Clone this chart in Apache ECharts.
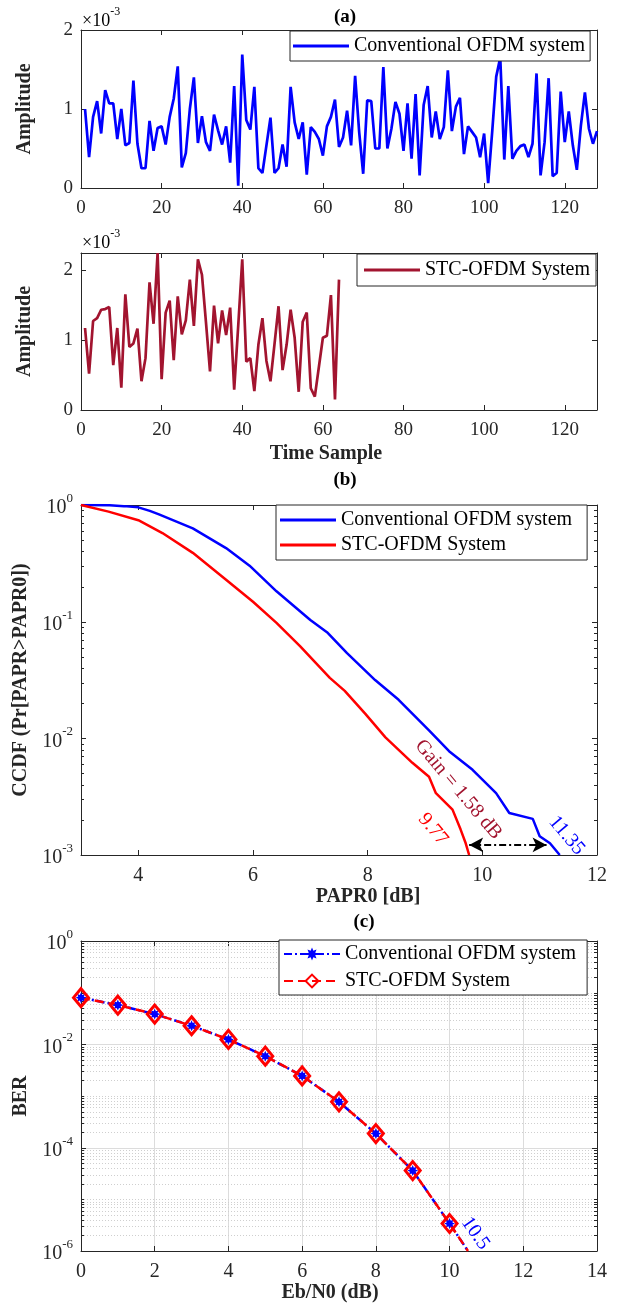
<!DOCTYPE html>
<html><head><meta charset="utf-8">
<script src="https://cdn.jsdelivr.net/npm/echarts@6/dist/echarts.min.js"></script>
<style>html,body{margin:0;padding:0;background:#fff}#c{width:618px;height:1307px}</style>
</head><body><div id="c"></div>
<script>
// ---------------- DATA ----------------
const tSamples = Array.from({length: 128}, (_, i) => i + 1);
// amplitude in units of 1e-3
const convAmp = [
 1.00,0.39,0.90,1.10,0.69,1.24,1.07,1.07,0.62,1.00,
 0.54,0.57,1.36,0.56,0.25,0.25,0.85,0.47,0.76,0.78,
 0.55,0.90,1.13,1.54,0.26,0.44,1.00,1.40,0.57,0.91,
 0.58,0.47,0.93,0.73,0.55,0.78,0.32,1.29,0.03,1.69,
 0.86,0.74,1.28,0.25,0.19,0.54,0.89,0.19,0.25,0.55,
 0.27,1.28,0.83,0.62,0.83,0.17,0.77,0.71,0.62,0.41,
 0.78,0.90,1.12,0.52,0.64,0.98,0.54,1.42,0.71,0.18,
 1.11,1.10,0.50,0.50,1.53,0.50,0.75,1.09,0.94,0.47,
 1.07,0.37,1.19,0.16,1.05,1.29,0.64,0.97,0.62,0.77,
 1.49,0.72,1.03,1.14,0.43,0.78,0.71,0.64,0.39,0.69,
 0.06,0.71,1.41,1.65,0.36,1.29,0.37,0.47,0.53,0.55,
 0.39,0.56,1.45,0.16,0.58,1.39,0.15,0.19,1.22,0.58,
 0.97,0.54,0.23,0.79,1.21,0.75,0.56,0.72];
const stcAmp = [
 1.17,0.52,1.27,1.31,1.43,1.44,1.47,0.64,1.17,0.32,
 1.65,0.90,0.95,1.16,0.41,0.74,1.82,1.23,2.24,0.44,
 1.39,1.56,0.71,1.62,1.08,1.28,1.86,1.20,2.15,1.93,
 1.25,0.55,1.49,0.95,1.42,1.07,1.46,0.29,1.20,2.15,
 0.69,0.74,0.27,0.93,1.31,0.70,0.41,0.94,1.48,0.57,
 0.93,1.43,1.03,0.26,1.26,1.39,0.31,0.19,0.61,1.03,
 1.06,1.64,0.15,1.86];

const ccdfConvX = [3,3.5,3.75,4,4.2,4.36,4.95,5.53,5.94,6.41,7.0,7.29,7.64,8.13,8.54,9.07,9.42,9.83,10.24,10.47,10.88,11.0,11.18,11.35];
const ccdfConvY = [1.0,0.993,0.978,0.955,0.89,0.83,0.631,0.427,0.302,0.182,0.1035,0.0813,0.0537,0.0316,0.0214,0.0117,0.00776,0.00537,0.00339,0.00229,0.00204,0.00145,0.00126,0.001];
const ccdfStcX = [3,3.48,4.0,4.42,4.95,5.53,6.0,6.41,6.82,7.34,7.6,7.96,8.31,8.78,9.07,9.19,9.48,9.62,9.71,9.77];
const ccdfStcY = [1.0,0.877,0.741,0.575,0.389,0.229,0.148,0.0977,0.0617,0.033,0.0255,0.0162,0.0102,0.00617,0.00468,0.00339,0.00245,0.00166,0.00126,0.001];

const ebn0 = [0,1,2,3,4,5,6,7,8,9,10];
const berConv = [0.080,0.0575,0.0385,0.0229,0.01245,0.0059,0.00245,0.00077,0.000187,0.000036,0.0000034];
const berStc  = [0.080,0.0575,0.0385,0.0229,0.01245,0.0059,0.00245,0.00077,0.000187,0.000036,0.0000034];
const berTail = [10.5, 0.000001];

const gainArrow = [[9.77, 0.00122], [11.12, 0.00122]];
const annB = [
  {text: 'Gain = 1.58 dB', x: 9.58, y: 0.00363, color: '#A2142F'},
  {text: '9.77', x: 9.14, y: 0.00166, color: '#FF0000'},
  {text: '11.35', x: 11.47, y: 0.00147, color: '#0000FF'}
];
const annC = [{text: '10.5', x: 10.7, y: 0.0000022, color: '#0000FF'}];

const xTicksB = [4,6,8,10,12];

// ---------------- STYLE ----------------
const FONT = "'Liberation Serif', 'Times New Roman', serif";
const AX = '#262626';
const BLUE = '#0000FF', DRED = '#A2142F', RED = '#FF0000';
const LINE_ICON = 'path://M0,0 H56 V3 H0 Z';

function starPath(n, rIn) {
  let d = '';
  for (let i = 0; i < 2 * n; i++) {
    const r = i % 2 === 0 ? 1 : rIn;
    const a = Math.PI * i / n - Math.PI / 2;
    d += (i === 0 ? 'M' : 'L') + (50 + 50 * r * Math.cos(a)).toFixed(2) + ',' + (50 + 50 * r * Math.sin(a)).toFixed(2) + ' ';
  }
  return 'path://' + d + 'Z';
}
function logTickValues(minExp, maxExp) {
  const out = [];
  for (let e = minExp; e < maxExp; e++) for (let m = 1; m < 10; m++) out.push(m * Math.pow(10, e));
  out.push(Math.pow(10, maxExp));
  return out;
}
const supRich = {
  b: {fontSize: 20, fontFamily: FONT, color: AX, lineHeight: 26, verticalAlign: 'bottom'},
  s: {fontSize: 13, fontFamily: FONT, color: AX, lineHeight: 26, verticalAlign: 'top'}
};
function expOf(v) { return Math.round(Math.log10(v)); }

function axisLineStyle() { return {show: true, onZero: false, lineStyle: {color: AX, width: 1}}; }
function tickStyle(show) { return {show: show, inside: true, length: 5, lineStyle: {color: AX, width: 1}}; }

const xAxes = [
  {type:'value', gridIndex:0, position:'bottom', min:0, max:128, interval:20, axisLine:axisLineStyle(), axisTick:tickStyle(true), splitLine:{show:false},
   axisLabel:{margin:11, fontSize:19, fontFamily:FONT, color:AX, formatter: v => (v % 20 === 0 ? String(v) : '')}},
  {type:'value', gridIndex:0, position:'top', min:0, max:128, interval:20, axisLine:axisLineStyle(), axisTick:tickStyle(true), splitLine:{show:false}, axisLabel:{show:false}},
  {type:'value', gridIndex:1, position:'bottom', min:0, max:128, interval:20, axisLine:axisLineStyle(), axisTick:tickStyle(true), splitLine:{show:false},
   axisLabel:{margin:11, fontSize:19, fontFamily:FONT, color:AX, formatter: v => (v % 20 === 0 ? String(v) : '')}},
  {type:'value', gridIndex:1, position:'top', min:0, max:128, interval:20, axisLine:axisLineStyle(), axisTick:tickStyle(true), splitLine:{show:false}, axisLabel:{show:false}},
  {type:'value', gridIndex:2, position:'bottom', min:3, max:12, axisLine:axisLineStyle(),
   axisTick:Object.assign(tickStyle(true), {customValues: xTicksB}), splitLine:{show:false},
   axisLabel:{margin:11, fontSize:20, fontFamily:FONT, color:AX, customValues: xTicksB, formatter: v => (v % 2 === 0 ? String(v) : '')}},
  {type:'value', gridIndex:2, position:'top', min:3, max:12, axisLine:axisLineStyle(),
   axisTick:Object.assign(tickStyle(true), {customValues: xTicksB}), splitLine:{show:false}, axisLabel:{show:false, customValues: xTicksB}},
  {type:'value', gridIndex:3, position:'bottom', min:0, max:14, interval:2, axisLine:axisLineStyle(), axisTick:tickStyle(true),
   splitLine:{show:true, lineStyle:{color:'#dcdcdc', width:1}},
   axisLabel:{margin:11, fontSize:20, fontFamily:FONT, color:AX}},
  {type:'value', gridIndex:3, position:'top', min:0, max:14, interval:2, axisLine:axisLineStyle(), axisTick:tickStyle(true), splitLine:{show:false}, axisLabel:{show:false}}
];

const nameStyle = {fontSize: 20, fontWeight: 'bold', fontFamily: FONT, color: AX};
const yAxes = [
  {type:'value', gridIndex:0, position:'left', min:0, max:2, interval:1, axisLine:axisLineStyle(), axisTick:tickStyle(true), splitLine:{show:false},
   axisLabel:{margin:8, fontSize:19, fontFamily:FONT, color:AX, formatter: v => (Number.isInteger(v) ? String(v) : '')},
   name:'Amplitude', nameLocation:'middle', nameGap:46, nameTextStyle:nameStyle},
  {type:'value', gridIndex:0, position:'right', min:0, max:2, interval:1, axisLine:axisLineStyle(), axisTick:tickStyle(true), splitLine:{show:false}, axisLabel:{show:false}},
  {type:'value', gridIndex:1, position:'left', min:0, max:2.24, interval:1, axisLine:axisLineStyle(), axisTick:tickStyle(true), splitLine:{show:false},
   axisLabel:{margin:8, fontSize:19, fontFamily:FONT, color:AX, formatter: v => (Number.isInteger(v) ? String(v) : '')},
   name:'Amplitude', nameLocation:'middle', nameGap:46, nameTextStyle:nameStyle},
  {type:'value', gridIndex:1, position:'right', min:0, max:2.24, interval:1, axisLine:axisLineStyle(), axisTick:tickStyle(true), splitLine:{show:false}, axisLabel:{show:false}},
  {type:'log', logBase:10, gridIndex:2, position:'left', min:0.001, max:1, axisLine:axisLineStyle(), axisTick:{show:false}, splitLine:{show:false},
   axisLabel:{margin:8, formatter: v => '{b|10}{s|' + expOf(v) + '}', rich: supRich},
   name:'CCDF (Pr[PAPR>PAPR0])', nameLocation:'middle', nameGap:46, nameTextStyle:nameStyle},
  {type:'log', logBase:10, gridIndex:2, position:'right', min:0.001, max:1, axisLine:axisLineStyle(), axisTick:{show:false}, splitLine:{show:false}, axisLabel:{show:false}},
  {type:'log', logBase:10, gridIndex:3, position:'left', min:0.000001, max:1, axisLine:axisLineStyle(), axisTick:{show:false}, splitLine:{show:false},
   axisLabel:{margin:8, formatter: v => (expOf(v) % 2 === 0 ? '{b|10}{s|' + expOf(v) + '}' : ''), rich: supRich},
   name:'BER', nameLocation:'middle', nameGap:46, nameTextStyle:nameStyle},
  {type:'log', logBase:10, gridIndex:3, position:'right', min:0.000001, max:1, axisLine:axisLineStyle(), axisTick:{show:false}, splitLine:{show:false}, axisLabel:{show:false}}
];

function decorSeries(xIdx, yIdx, x0, values, withGrid, majorStep) {
  return {
    type: 'custom', xAxisIndex: xIdx, yAxisIndex: yIdx, silent: true, z: 1, clip: false,
    data: values.map(v => [x0, v]),
    renderItem: function (params, api) {
      const cs = params.coordSys;
      const v = api.value(1);
      const y = Math.round(api.coord([api.value(0), v])[1]) + 0.5;
      const e = Math.log10(v);
      const isDecade = Math.abs(e - Math.round(e)) < 1e-6;
      const isMajor = isDecade && (Math.round(e) % majorStep === 0);
      const len = isMajor ? 5 : 3;
      const ch = [];
      if (withGrid && y > cs.y + 1 && y < cs.y + cs.height - 1) {
        ch.push({type: 'line', shape: {x1: cs.x, y1: y, x2: cs.x + cs.width, y2: y},
          style: isMajor ? {stroke: '#dcdcdc', lineWidth: 1} : {stroke: '#cfcfcf', lineWidth: 1, lineDash: [1, 2]}});
      }
      ch.push({type: 'line', shape: {x1: cs.x, y1: y, x2: cs.x + len, y2: y}, style: {stroke: AX, lineWidth: 1}});
      ch.push({type: 'line', shape: {x1: cs.x + cs.width - len, y1: y, x2: cs.x + cs.width, y2: y}, style: {stroke: AX, lineWidth: 1}});
      return {type: 'group', children: ch};
    }
  };
}

const pair = (xs, ys) => xs.map((x, i) => [x, ys[i]]);

const series = [
  {name:'Conventional OFDM system#a', type:'line', xAxisIndex:0, yAxisIndex:0, data: pair(tSamples, convAmp), symbol:'none',
   lineStyle:{color:BLUE, width:2.7}, itemStyle:{color:BLUE}},
  {name:'STC-OFDM System#a', type:'line', xAxisIndex:2, yAxisIndex:2, data: pair(tSamples.slice(0, stcAmp.length), stcAmp), symbol:'none',
   lineStyle:{color:DRED, width:2.7}, itemStyle:{color:DRED}},
  {name:'Conventional OFDM system#b', type:'line', xAxisIndex:4, yAxisIndex:4, data: pair(ccdfConvX, ccdfConvY), symbol:'none',
   lineStyle:{color:BLUE, width:2.5}, itemStyle:{color:BLUE}},
  {name:'STC-OFDM System#b', type:'line', xAxisIndex:4, yAxisIndex:4, data: pair(ccdfStcX, ccdfStcY), symbol:'none',
   lineStyle:{color:RED, width:2.5}, itemStyle:{color:RED},
   markLine:{silent:true, symbol:['arrow','arrow'], symbolSize:[11,14], label:{show:false},
     lineStyle:{color:'#000', width:2, type:[7,3,2,3]},
     data:[[{coord: gainArrow[0]}, {coord: gainArrow[1]}]]}},
  {name:'Conventional OFDM system#c', type:'line', xAxisIndex:6, yAxisIndex:6,
   data: pair(ebn0, berConv).concat([{value: berTail, symbol: 'none'}]),
   symbol: starPath(8, 0.55), symbolSize: 11, showAllSymbol: true,
   lineStyle:{color:BLUE, width:2.5, type:[8,3,2,3]}, itemStyle:{color:BLUE}},
  {name:'STC-OFDM System#c', type:'line', xAxisIndex:6, yAxisIndex:6,
   data: pair(ebn0, berStc).concat([{value: berTail, symbol: 'none'}]),
   symbol: 'diamond', symbolSize: [15, 18], showAllSymbol: true,
   lineStyle:{color:RED, width:2.5, type:[9,5]}, itemStyle:{color:'rgba(255,255,255,0)', borderColor:RED, borderWidth:3}},
  decorSeries(4, 4, 3, logTickValues(-3, 0), false, 1),
  decorSeries(6, 6, 0, logTickValues(-6, 0), true, 2)
];

function legendBase(extra) {
  return Object.assign({
    selectedMode: false, orient: 'vertical', itemWidth: 56, itemHeight: 14, symbolKeepAspect: false,
    backgroundColor: '#fff', borderColor: AX, borderWidth: 1, borderRadius: 0,
    textStyle: {fontSize: 20, fontFamily: FONT, color: '#000', lineHeight: 22},
    formatter: n => n.split('#')[0]
  }, extra);
}

const option = {
  animation: false,
  textStyle: {fontFamily: FONT},
  grid: [
    {left: 81, top: 30, width: 516, height: 158},
    {left: 81, top: 253, width: 516, height: 157},
    {left: 81, top: 505, width: 516, height: 350},
    {left: 81, top: 941, width: 516, height: 310}
  ],
  xAxis: xAxes,
  yAxis: yAxes,
  legend: [
    legendBase({data: [{name: 'Conventional OFDM system#a', icon: LINE_ICON}], left: 290, top: 31, itemHeight: 3, padding: [4, 5, 4, 3]}),
    legendBase({data: [{name: 'STC-OFDM System#a', icon: LINE_ICON}], left: 357, top: 254, itemHeight: 3, padding: [5, 6, 5, 7]}),
    legendBase({data: [{name: 'Conventional OFDM system#b', icon: LINE_ICON}, {name: 'STC-OFDM System#b', icon: LINE_ICON}],
                left: 276, top: 505, itemGap: 3, itemHeight: 3, padding: [4, 15, 4, 4]}),
    legendBase({data: ['Conventional OFDM system#c', 'STC-OFDM System#c'], left: 279, top: 940, itemGap: 5, padding: [3, 11, 3, 4], itemHeight: 16, symbolKeepAspect: true})
  ],
  series: series
};

const chart = echarts.init(document.getElementById('c'), null, {renderer: 'canvas'});
chart.setOption(option);

// ---------------- TEXT ANNOTATIONS ----------------
function txt(x, y, text, font, color, rot, rich) {
  const st = {text: text, font: font, fill: color, align: 'center', verticalAlign: 'middle', textAlign: 'center', textVerticalAlign: 'middle'};
  if (rich) st.rich = rich;
  return {type: 'text', x: x, y: y, rotation: rot || 0, silent: true, z: 100, style: st};
}
const g = [];
const BOLD = 'bold 19px ' + FONT;
g.push(txt(345, 17, '(a)', BOLD, '#000'));
g.push(txt(345, 480, '(b)', BOLD, '#000'));
g.push(txt(364, 922, '(c)', BOLD, '#000'));
g.push(txt(326, 454, 'Time Sample', 'bold 20px ' + FONT, AX));
g.push(txt(368, 897, 'PAPR0 [dB]', 'bold 20px ' + FONT, AX));
g.push(txt(330, 1293, 'Eb/N0 (dB)', 'bold 20px ' + FONT, AX));
const expRich = {a: {fontSize: 18, fontFamily: FONT, color: AX, lineHeight: 24, verticalAlign: 'bottom'},
                 e: {fontSize: 12, fontFamily: FONT, color: AX, lineHeight: 24, verticalAlign: 'top'}};
g.push({type: 'text', left: 82, top: 6, silent: true, style: {text: '{a|×10}{e|-3}', rich: expRich}});
g.push({type: 'text', left: 82, top: 228, silent: true, style: {text: '{a|×10}{e|-3}', rich: expRich}});
annB.forEach(a => {
  const p = chart.convertToPixel({gridIndex: 2}, [a.x, a.y]);
  g.push(txt(p[0], p[1], a.text, '20px ' + FONT, a.color, -0.87));
});
annC.forEach(a => {
  const p = chart.convertToPixel({gridIndex: 3}, [a.x, a.y]);
  g.push(txt(p[0], p[1], a.text, '20px ' + FONT, a.color, -0.96));
});
chart.setOption({graphic: g});
</script>
</body></html>
